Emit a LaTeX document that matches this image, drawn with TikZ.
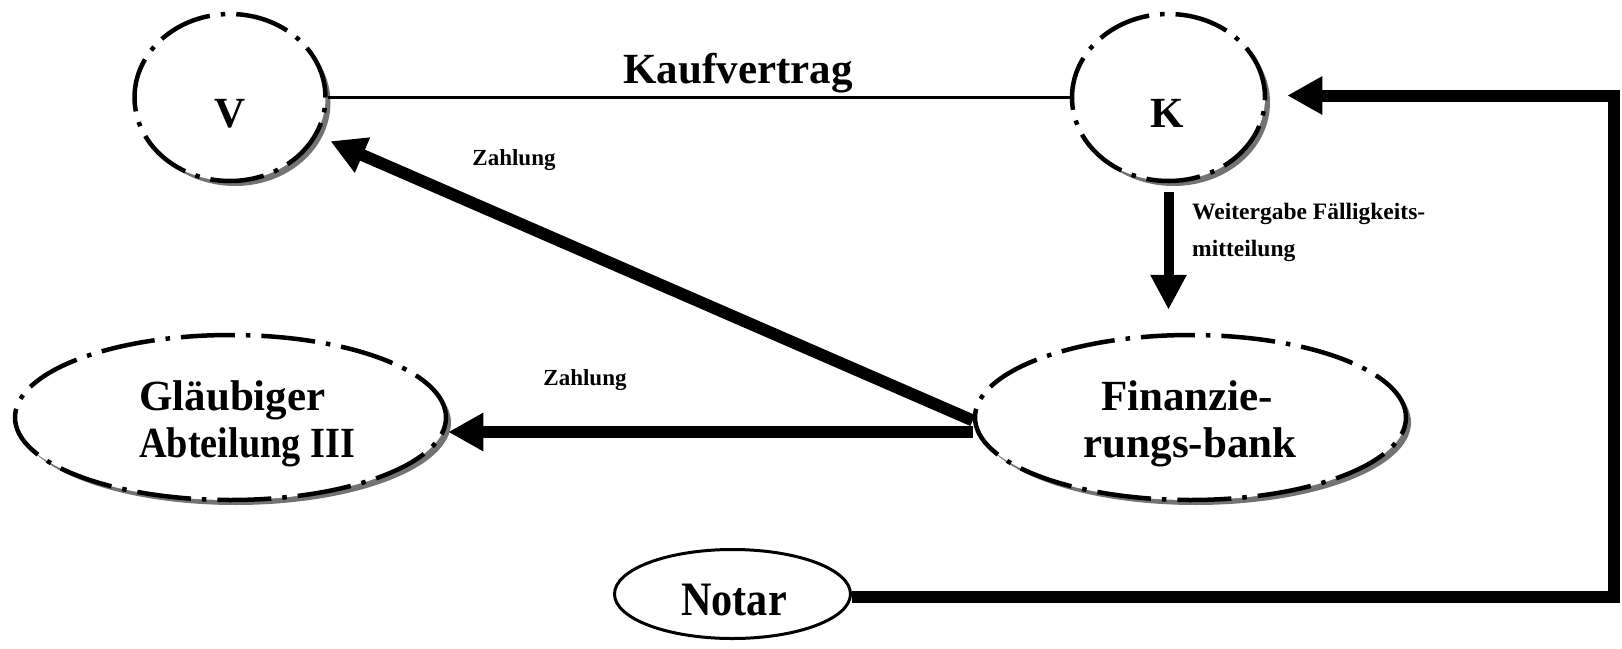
\documentclass[tikz,border=0pt]{standalone}
\usepackage{fontspec}
\setmainfont{Liberation Serif}
\newfontfamily\notarfont[FakeStretch=0.88]{Liberation Serif}
\usetikzlibrary{shapes.geometric,arrows.meta,calc,shadows}
\begin{document}
\begin{tikzpicture}[x=1pt,y=-1pt,
  dd/.style={ellipse, draw, line width=4.5pt,
    dash pattern=on 54pt off 11pt on 4.5pt off 11pt,
    fill=white, inner sep=0pt,
    drop shadow={shadow xshift=5pt,shadow yshift=-5pt,fill=black!55,opacity=1}},
  bigtext/.style={font=\bfseries\fontsize{43}{47}\selectfont, inner sep=0pt, anchor=base},
  midtext/.style={font=\bfseries\fontsize{23.5}{33}\selectfont, inner sep=0pt, anchor=base west},
  smalltext/.style={font=\bfseries\fontsize{23}{26}\selectfont, inner sep=0pt, anchor=base},
  fat/.style={line width=12pt, line join=miter, -{Triangle[length=35pt,width=36pt]}},
  thin/.style={line width=2.5pt}
]
\useasboundingbox (0,0) rectangle (1622,648);

% ellipses
\node[dd, minimum width=191pt, minimum height=167pt] (V) at (230,97.5) {};
\node[dd, minimum width=193pt, minimum height=167pt] (K) at (1168.5,97.5) {};
\node[dd, minimum width=431pt, minimum height=165pt] (G) at (230.5,417.5) {};
\node[dd, minimum width=431pt, minimum height=165pt] (F) at (1190.5,417.5) {};
\node[ellipse, draw, line width=3pt, fill=white, inner sep=0pt,
      minimum width=236pt, minimum height=89pt] (N) at (732.5,594) {};

% texts
\node[bigtext] (Vt) at (230,127) {V};
\node[bigtext] (Kt) at (1167,127) {K};
\node[bigtext, anchor=base west] (Gt1) at (139,410) {Gläubiger};
\node[bigtext, anchor=base west] (Gt2) at (139,457) {\scalebox{0.89}[1]{Abteilung III}};
\node[bigtext] (Ft1) at (1187,410) {Finanzie-};
\node[bigtext] (Ft2) at (1190,457) {rungs-bank};
\node[anchor=base, inner sep=0pt, font=\notarfont\bfseries\fontsize{48}{48}\selectfont] (Nt) at (734,615) {Notar};

% Kaufvertrag
\draw[thin] (V.east) -- (K.west);
\node[bigtext] (kv) at (738,83) {Kaufvertrag};

% Zahlungen
\draw[fat, shorten >=14pt] ($(F.west)+(0,3)$) -- (V);
\node[smalltext] (z1) at (514,165) {Zahlung};
\draw[fat] ($(F.west)+(0,14.5)$) -- ($(G.east)+(0,14.5)$);
\node[smalltext] (z2) at (585,385) {Zahlung};

% Weitergabe
\draw[line width=10pt, -{Triangle[length=35pt,width=34pt]}]
  ([yshift=-9pt]K.south) -- ([yshift=23pt]K.south |- F.north);
\node[midtext] (w1) at (1192,219) {Weitergabe Fälligkeits-};
\node[midtext] (w2) at (1192,256) {mitteilung};

% Notar to K
\coordinate (kc) at (1614,95.5);
\draw[fat] ([yshift=-3pt]N.east) -| (kc) -- ([xshift=20pt,yshift=2pt]K.east);
\end{tikzpicture}
\end{document}
